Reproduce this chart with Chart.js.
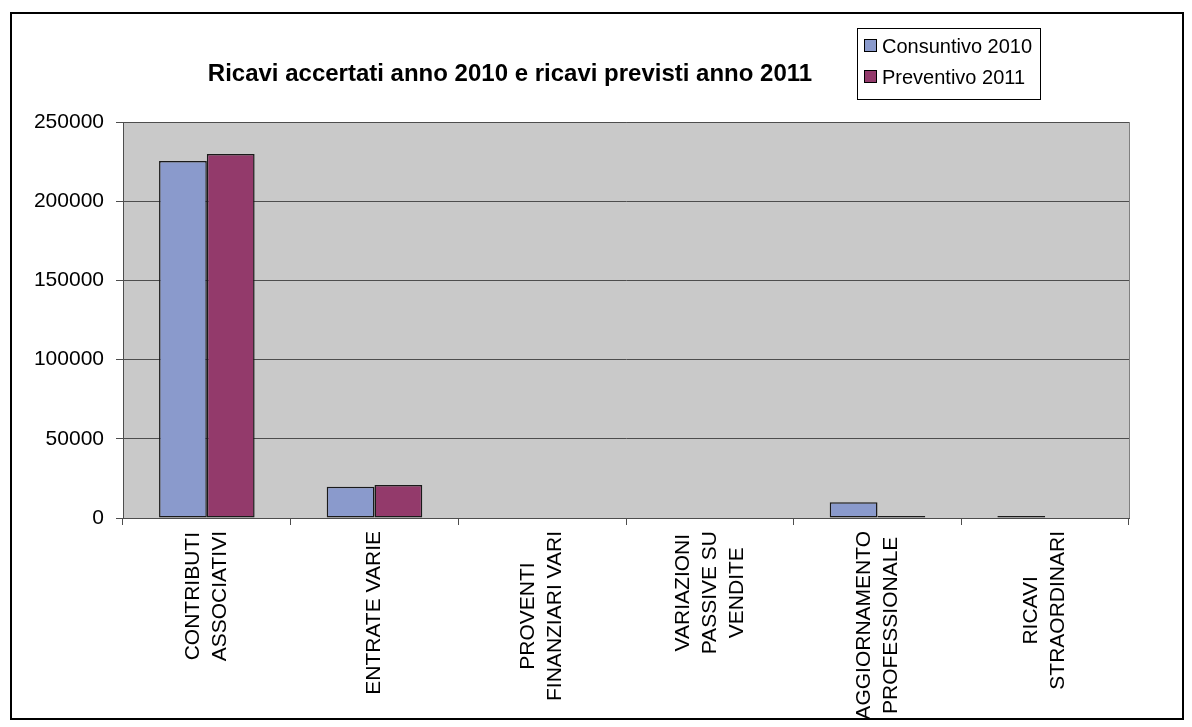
<!DOCTYPE html>
<html>
<head>
<meta charset="utf-8">
<script src="https://cdn.jsdelivr.net/npm/chart.js@4/dist/chart.umd.min.js"></script>
<style>
    body { margin: 0; background: #fff; font-family: "Liberation Sans", Arial, sans-serif; }
    #wrap { position: relative; width: 1192px; height: 727px; }
    #frame { position: absolute; left: 10px; top: 12px; width: 1170px; height: 704px; border: 2px solid #000; pointer-events: none; }
    #title { position: absolute; left: 110px; width: 800px; top: 59px; text-align: center; font-weight: bold; font-size: 24px; }
    #legend { position: absolute; left: 857px; top: 28px; width: 182px; height: 70px; border: 1px solid #000; background: #fff; font-size: 20px; }
    .item { position: absolute; left: 6px; white-space: nowrap; }
    .sw { display: inline-block; width: 11px; height: 11px; border: 1px solid #000; margin-right: 5px; vertical-align: 1px; }
</style>
</head>
<body>
<div id="wrap">
    <canvas id="ricaviChart" width="1192" height="727"></canvas>
    <div id="frame"></div>
    <div id="title">Ricavi accertati anno 2010 e ricavi previsti anno 2011</div>
    <div id="legend"></div>
</div>
<script>
// categorie (etichette su più righe come nel grafico originale)
const categories = [
    ["CONTRIBUTI", "ASSOCIATIVI"],
    ["ENTRATE VARIE"],
    ["PROVENTI", "FINANZIARI VARI"],
    ["VARIAZIONI", "PASSIVE SU", "VENDITE"],
    ["AGGIORNAMENTO", "PROFESSIONALE"],
    ["RICAVI", "STRAORDINARI"]
];
const consuntivo2010 = [225400, 19800, 0, 0, 10000, 1300];
const preventivo2011 = [229800, 20800, 0, 0, 1300, 0];
const seriesNames = ["Consuntivo 2010", "Preventivo 2011"];
const seriesColors = ["#8A9ACC", "#933A6B"];
const yTicks = [0, 50000, 100000, 150000, 200000, 250000];

// legenda
const legendBox = document.getElementById("legend");
seriesNames.forEach((name, i) => {
    const item = document.createElement("div");
    item.className = "item";
    item.style.top = (i === 0 ? 6 : 37) + "px";
    item.innerHTML = '<span class="sw" style="background:' + seriesColors[i] + '"></span>' + name;
    legendBox.appendChild(item);
});

const plotBackground = {
    id: "plotBackground",
    beforeDraw(chart) {
        const { ctx, chartArea: a } = chart;
        ctx.save();
        ctx.fillStyle = "#C9C9C9";
        ctx.fillRect(a.left, a.top, a.right - a.left, a.bottom - a.top);
        ctx.strokeStyle = "#808080";
        ctx.lineWidth = 1;
        ctx.strokeRect(a.left + 0.5, a.top + 0.5, a.right - a.left, a.bottom - a.top);
        ctx.restore();
    }
};

// etichette verticali con righe centrate (Chart.js le allinea a destra)
const verticalLabels = {
    id: "verticalLabels",
    afterDraw(chart) {
        const { ctx } = chart;
        const xs = chart.scales.x;
        const lineH = 27;
        ctx.save();
        ctx.font = "21px 'Liberation Sans'";
        ctx.fillStyle = "#000";
        ctx.textAlign = "center";
        ctx.textBaseline = "middle";
        chart.data.labels.forEach((lines, i) => {
            const maxW = Math.max(...lines.map(l => ctx.measureText(l).width));
            const cx = xs.getPixelForValue(i);
            const cy = xs.top + 13 + maxW / 2;
            ctx.save();
            ctx.translate(cx, cy);
            ctx.rotate(-Math.PI / 2);
            lines.forEach((l, k) => {
                ctx.fillText(l, 0, (k - (lines.length - 1) / 2) * lineH);
            });
            ctx.restore();
        });
        ctx.restore();
    }
};

const ctx = document.getElementById("ricaviChart").getContext("2d");
new Chart(ctx, {
    type: "bar",
    data: {
        labels: categories,
        datasets: [
            {
                label: seriesNames[0],
                data: consuntivo2010,
                backgroundColor: seriesColors[0],
                borderColor: "#1a1a1a",
                borderWidth: 1.5,
                borderSkipped: false
            },
            {
                label: seriesNames[1],
                data: preventivo2011,
                backgroundColor: seriesColors[1],
                borderColor: "#1a1a1a",
                borderWidth: 1.5,
                borderSkipped: false
            }
        ]
    },
    options: {
        responsive: false,
        animation: false,
        layout: { padding: { left: 0, top: 122, right: 63, bottom: 0 } },
        datasets: { bar: { categoryPercentage: 0.57, barPercentage: 1.0 } },
        plugins: {
            legend: { display: false },
            title: { display: false },
            tooltip: { enabled: false }
        },
        scales: {
            x: {
                afterFit: (scale) => { scale.height = 209; },
                grid: { offset: true, drawOnChartArea: false, color: "#4d4d4d", tickLength: 7 },
                border: { color: "#4d4d4d" },
                ticks: { display: false }
            },
            y: {
                min: 0,
                max: 250000,
                afterFit: (scale) => { scale.width = 123; },
                afterBuildTicks: (scale) => { scale.ticks = yTicks.map(v => ({ value: v })); },
                grid: { color: "#4d4d4d", tickLength: 7 },
                border: { color: "#4d4d4d" },
                ticks: {
                    color: "#000",
                    padding: 12,
                    callback: (v) => String(v),
                    font: { family: "Liberation Sans", size: 21 }
                }
            }
        }
    },
    plugins: [plotBackground, verticalLabels]
});
</script>
</body>
</html>
